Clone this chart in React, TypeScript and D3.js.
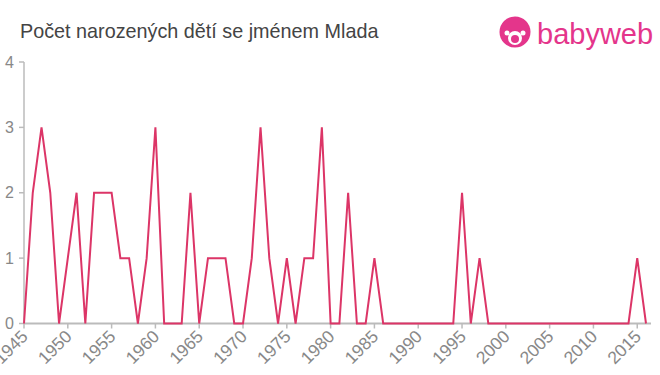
import * as d3 from 'd3'
import { useEffect, useRef } from 'react'

const years = d3.range(1945, 2017)
const counts = [
  0, 2, 3, 2, 0, 1, 2, 0, 2, 2, 2, 1, 1, 0, 1, 3, 0, 0, 0, 2, 0, 1, 1, 1, 0, 0, 1, 3, 1, 0, 1, 0, 1, 1, 3, 0,
  0, 2, 0, 0, 1, 0, 0, 0, 0, 0, 0, 0, 0, 0, 2, 0, 1, 0, 0, 0, 0, 0, 0, 0, 0, 0, 0, 0, 0, 0, 0, 0, 0, 0, 1, 0,
]
const yTicks = [0, 1, 2, 3, 4]
const xTicks = d3.range(1945, 2016, 5)

const W = 660
const H = 375
const M = { top: 62, right: 13, bottom: 51.5, left: 24 }
const LINE = '#dc3567'
const AXIS = '#bbbbbb'
const MUTED = '#888888'

export default function App() {
  const svgRef = useRef<SVGSVGElement>(null)

  useEffect(() => {
    const svg = d3.select(svgRef.current!)
    svg.selectAll('*').remove()

    const x = d3.scaleLinear().domain([1945, 2016]).range([M.left, 646])
    const y = d3.scaleLinear().domain([0, 4]).range([H - M.bottom, M.top])
    const font = 'Liberation Sans, Arial, sans-serif'

    svg
      .append('text')
      .attr('x', 20)
      .attr('y', 38)
      .attr('font-family', font)
      .attr('font-size', 19.8)
      .attr('fill', '#444')
      .text('Počet narozených dětí se jménem Mlada')

    // logo
    const logo = svg.append('g').attr('transform', 'translate(515,32)')
    logo.append('circle').attr('r', 15.5).attr('fill', '#e4358b')
    logo.append('circle').attr('cx', 0).attr('cy', 6).attr('r', 7).attr('fill', '#fff')
    logo.append('circle').attr('cx', 0).attr('cy', 7).attr('r', 4).attr('fill', '#e4358b')
    logo.append('circle').attr('cx', -8).attr('cy', 1).attr('r', 2.5).attr('fill', '#fff')
    logo.append('circle').attr('cx', 8).attr('cy', 1).attr('r', 2.5).attr('fill', '#fff')
    svg
      .append('text')
      .attr('x', 537)
      .attr('y', 44)
      .attr('font-family', font)
      .attr('font-size', 29)
      .attr('fill', '#e4358b')
      .text('babyweb')

    const y0 = y(0)
    // y axis
    svg.append('line').attr('x1', M.left).attr('x2', M.left).attr('y1', M.top).attr('y2', y0).attr('stroke', AXIS).attr('stroke-width', 1.5)
    svg
      .append('g')
      .selectAll('line')
      .data(yTicks)
      .join('line')
      .attr('x1', M.left - 5)
      .attr('x2', M.left)
      .attr('y1', (d) => y(d))
      .attr('y2', (d) => y(d))
      .attr('stroke', AXIS)
      .attr('stroke-width', 1.5)
    svg
      .append('g')
      .selectAll('text')
      .data(yTicks)
      .join('text')
      .attr('x', 14)
      .attr('y', (d) => y(d) + 5.5)
      .attr('text-anchor', 'end')
      .attr('font-family', font)
      .attr('font-size', 16)
      .attr('fill', MUTED)
      .text((d) => d)

    // x axis
    svg.append('line').attr('x1', M.left).attr('x2', 651).attr('y1', y0).attr('y2', y0).attr('stroke', AXIS).attr('stroke-width', 2)
    svg
      .append('g')
      .selectAll('line')
      .data(xTicks)
      .join('line')
      .attr('x1', (d) => x(d))
      .attr('x2', (d) => x(d))
      .attr('y1', y0)
      .attr('y2', y0 + 5)
      .attr('stroke', AXIS)
      .attr('stroke-width', 1.5)
    svg
      .append('g')
      .selectAll('text')
      .data(xTicks)
      .join('text')
      .attr('transform', (d) => `translate(${x(d) + 5},${y0 + 14}) rotate(-45)`)
      .attr('text-anchor', 'end')
      .attr('font-family', font)
      .attr('font-size', 17.5)
      .attr('fill', MUTED)
      .text((d) => d)

    const line = d3
      .line<number>()
      .x((_, i) => x(years[i]))
      .y((d) => y(d))
    svg
      .append('path')
      .datum(counts)
      .attr('fill', 'none')
      .attr('stroke', LINE)
      .attr('stroke-width', 2)
      .attr('d', line(counts) ?? '')
  }, [])

  return <svg ref={svgRef} width={W} height={H} style={{ position: 'absolute', left: 0, top: 0 }} />
}
